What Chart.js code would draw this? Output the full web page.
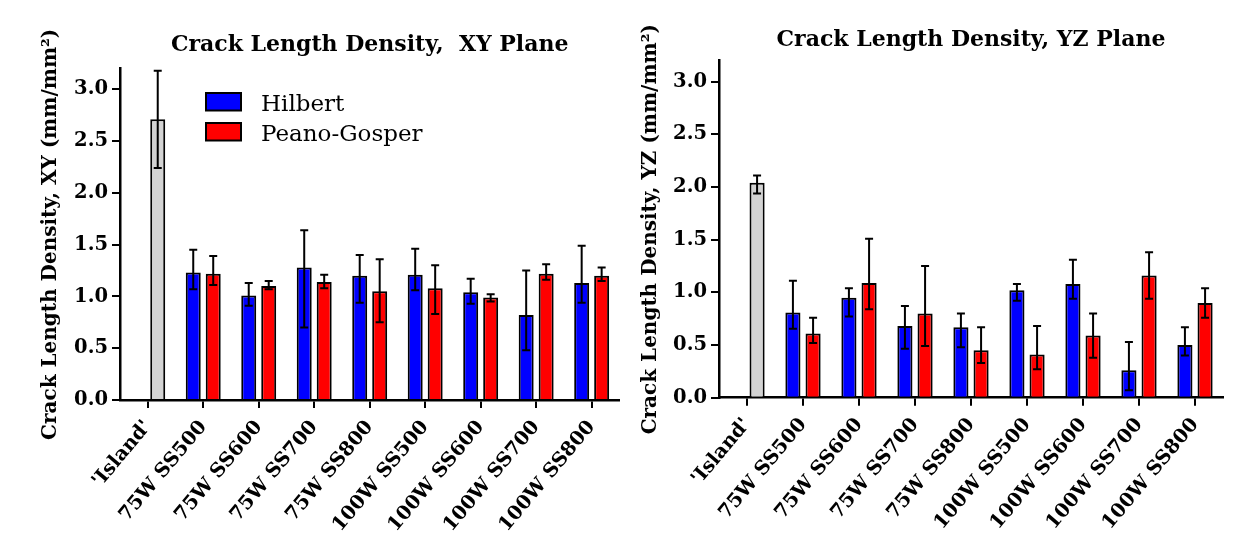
<!DOCTYPE html>
<html><head><meta charset="utf-8">
<script src="https://cdn.jsdelivr.net/npm/chart.js@4.4.0/dist/chart.umd.min.js"></script>
<style>
html,body{margin:0;padding:0;background:#fff;}
body{width:1234px;height:550px;position:relative;overflow:hidden;}
canvas{position:absolute;top:0;}
</style></head><body>
<canvas id="c1" width="630" height="550" style="left:0px"></canvas>
<canvas id="c2" width="617" height="550" style="left:617px"></canvas>
<script>
// ---- data ----
const categories = ["'Island'", "75W SS500", "75W SS600", "75W SS700", "75W SS800",
                    "100W SS500", "100W SS600", "100W SS700", "100W SS800"];
const seriesNames = ["Hilbert", "Peano-Gosper", "Island"];
const yTickValues = [0, 0.5, 1.0, 1.5, 2.0, 2.5, 3.0];

// XY plane
const xyIsland = [2.71];
const xyIslandErrPlus = [0.47];
const xyIslandErrMinus = [0.47];
const xyHilbert = [1.23, 1.01, 1.28, 1.20, 1.21, 1.04, 0.82, 1.13];
const xyHilbertErrPlus = [0.22, 0.12, 0.36, 0.20, 0.25, 0.13, 0.43, 0.36];
const xyHilbertErrMinus = [0.16, 0.10, 0.58, 0.26, 0.15, 0.11, 0.34, 0.19];
const xyPeano = [1.22, 1.10, 1.14, 1.05, 1.08, 0.99, 1.22, 1.20];
const xyPeanoErrPlus = [0.17, 0.05, 0.07, 0.31, 0.22, 0.03, 0.09, 0.08];
const xyPeanoErrMinus = [0.11, 0.03, 0.06, 0.30, 0.25, 0.04, 0.06, 0.05];

// YZ plane
const yzIsland = [2.04];
const yzIslandErrPlus = [0.07];
const yzIslandErrMinus = [0.10];
const yzHilbert = [0.81, 0.95, 0.68, 0.67, 1.02, 1.08, 0.26, 0.50];
const yzHilbertErrPlus = [0.30, 0.09, 0.19, 0.13, 0.06, 0.23, 0.27, 0.17];
const yzHilbertErrMinus = [0.155, 0.18, 0.215, 0.19, 0.10, 0.14, 0.19, 0.10];
const yzPeano = [0.61, 1.09, 0.80, 0.45, 0.41, 0.59, 1.16, 0.90];
const yzPeanoErrPlus = [0.15, 0.42, 0.45, 0.22, 0.27, 0.21, 0.22, 0.14];
const yzPeanoErrMinus = [0.09, 0.25, 0.31, 0.12, 0.14, 0.21, 0.22, 0.14];

// ---- styles ----
const FONT = "'DejaVu Serif', 'Liberation Serif', serif";
const BLUE = '#0000ff', RED = '#ff0000', GREY = '#d3d3d3';

const errorBarPlugin = {
  id: 'errorBars',
  afterDatasetsDraw(chart) {
    const ctx = chart.ctx;
    const yScale = chart.scales.y;
    ctx.save();
    ctx.strokeStyle = '#000';
    ctx.lineWidth = 2;
    chart.data.datasets.forEach((ds, i) => {
      const meta = chart.getDatasetMeta(i);
      ds.data.forEach((v, j) => {
        if (v === null || v === undefined) return;
        const el = meta.data[j];
        const x = el.x;
        const yt = yScale.getPixelForValue(v + ds.errPlus[j]);
        const yb = yScale.getPixelForValue(v - ds.errMinus[j]);
        const cap = 4;
        ctx.beginPath();
        ctx.moveTo(x, yt); ctx.lineTo(x, yb);
        ctx.moveTo(x - cap, yt); ctx.lineTo(x + cap, yt);
        ctx.moveTo(x - cap, yb); ctx.lineTo(x + cap, yb);
        ctx.stroke();
      });
    });
    ctx.restore();
  }
};

const legendPlugin = {
  id: 'insideLegend',
  afterDraw(chart) {
    const ctx = chart.ctx;
    const items = [{label: seriesNames[0], color: BLUE}, {label: seriesNames[1], color: RED}];
    ctx.save();
    ctx.font = "23px " + FONT;
    items.forEach((it, k) => {
      const y = 93 + k * 30;
      ctx.fillStyle = it.color;
      ctx.fillRect(206, y, 35, 17.5);
      ctx.strokeStyle = '#000';
      ctx.lineWidth = 2;
      ctx.strokeRect(206, y, 35, 17.5);
      ctx.fillStyle = '#000';
      ctx.textBaseline = 'alphabetic';
      ctx.textAlign = 'left';
      ctx.fillText(it.label, 261, y + 17.5);
    });
    ctx.restore();
  }
};

function pad(arr) { return [null].concat(arr); }

function makeChart(canvasId, opt) {
  const datasets = [
    { label: seriesNames[0], data: pad(opt.hilbert), errPlus: pad(opt.hPlus), errMinus: pad(opt.hMinus),
      backgroundColor: BLUE, stack: 'a' },
    { label: seriesNames[1], data: pad(opt.peano), errPlus: pad(opt.pPlus), errMinus: pad(opt.pMinus),
      backgroundColor: RED, stack: 'b' },
    { label: seriesNames[2], data: opt.island.concat(new Array(8).fill(null)),
      errPlus: opt.iPlus.concat(new Array(8).fill(0)), errMinus: opt.iMinus.concat(new Array(8).fill(0)),
      backgroundColor: GREY, stack: 'b' }
  ];
  datasets.forEach(d => {
    d.borderColor = '#000'; d.borderWidth = 2; d.borderSkipped = 'start';
    d.categoryPercentage = 0.72; d.barPercentage = 0.75;
  });
  return new Chart(document.getElementById(canvasId), {
    type: 'bar',
    data: { labels: categories, datasets },
    plugins: opt.plugins,
    options: {
      responsive: false,
      animation: false,
      devicePixelRatio: 1,
      layout: { padding: { left: 0, right: opt.padRight, top: 0, bottom: 0 } },
      plugins: {
        legend: { display: false },
        tooltip: { enabled: false },
        title: {
          display: true, text: opt.title, color: '#000', fullSize: false,
          font: { family: FONT, size: 22, weight: 'bold' },
          padding: { top: opt.titleTop, bottom: opt.titleBottom }
        }
      },
      scales: {
        x: {
          grid: { display: true, drawOnChartArea: false, drawTicks: true, tickLength: 8,
                  color: '#000', lineWidth: 2, offset: false },
          border: { display: true, color: '#000', width: 2.5 },
          ticks: { color: '#000', font: { family: FONT, size: 19.5, weight: 'bold' },
                   minRotation: 50, maxRotation: 50, autoSkip: false, padding: 8 },
          afterFit(s) { s.height = opt.xHeight; }
        },
        y: {
          min: 0, max: 3.2, stacked: false,
          grid: { display: true, drawOnChartArea: false, drawTicks: true, tickLength: 8,
                  color: '#000', lineWidth: 2 },
          border: { display: true, color: '#000', width: 2.5 },
          ticks: { color: '#000', font: { family: FONT, size: 19.5, weight: 'bold' }, padding: 4,
                   stepSize: 0.5, callback: v => Number(v).toFixed(1) },
          afterBuildTicks(s) {
            s.ticks = yTickValues.map(v => ({ value: v }));
          },
          title: { display: true, text: opt.yTitle, color: '#000',
                   font: { family: FONT, size: 20, weight: 'bold' },
                   padding: { top: opt.yTitlePad, bottom: 0 } },
          afterFit(s) { s.width = opt.yWidth; }
        }
      }
    }
  });
}

makeChart('c1', {
  hilbert: xyHilbert, hPlus: xyHilbertErrPlus, hMinus: xyHilbertErrMinus,
  peano: xyPeano, pPlus: xyPeanoErrPlus, pMinus: xyPeanoErrMinus,
  island: xyIsland, iPlus: xyIslandErrPlus, iMinus: xyIslandErrMinus,
  title: 'Crack Length Density,  XY Plane',
  yTitle: 'Crack Length Density, XY (mm/mm\u00B2)',
  titleTop: 31.8, titleBottom: 10.4, yTitlePad: 39, yWidth: 120, xHeight: 150, padRight: 10.6,
  plugins: [errorBarPlugin, legendPlugin]
});

makeChart('c2', {
  hilbert: yzHilbert, hPlus: yzHilbertErrPlus, hMinus: yzHilbertErrMinus,
  peano: yzPeano, pPlus: yzPeanoErrPlus, pMinus: yzPeanoErrMinus,
  island: yzIsland, iPlus: yzIslandErrPlus, iMinus: yzIslandErrMinus,
  title: 'Crack Length Density, YZ Plane',
  yTitle: 'Crack Length Density, YZ (mm/mm\u00B2)',
  titleTop: 26.8, titleBottom: 7.5, yTitlePad: 22, yWidth: 102, xHeight: 152.3, padRight: 11,
  plugins: [errorBarPlugin]
});
</script>
</body></html>
